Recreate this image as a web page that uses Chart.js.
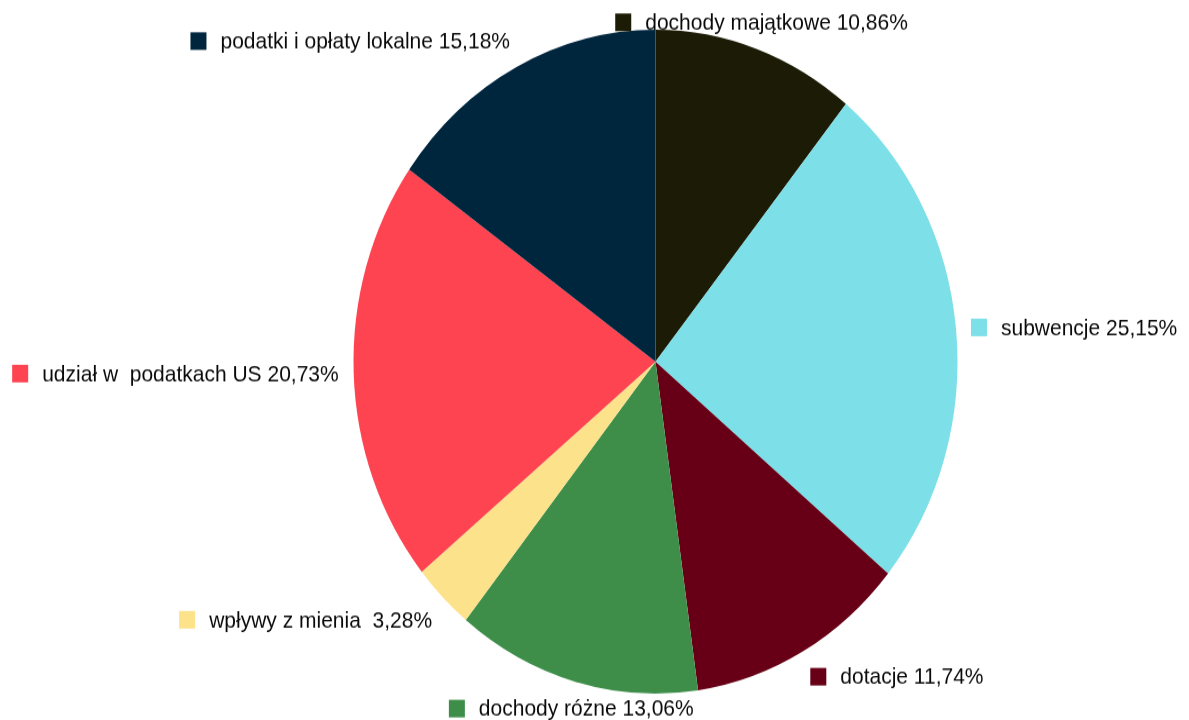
<!DOCTYPE html>
<html>
<head>
<meta charset="utf-8">
<script src="https://cdn.jsdelivr.net/npm/chart.js@4/dist/chart.umd.min.js"></script>
<style>
  html, body { margin:0; padding:0; background:#fff; overflow:hidden; }
  #wrap { width:1189px; height:720px; }
  /* the original pie is a bit taller than wide, text too */
  #pie { transform:scaleY(1.0992); transform-origin:0 0; }
</style>
</head>
<body>
<div id="wrap"><canvas id="pie" width="1189" height="655"></canvas></div>
<script>
// slices, clockwise from 12 o'clock
const categories = [
  'dochody majątkowe',
  'subwencje',
  'dotacje',
  'dochody różne',
  'wpływy z mienia ',
  'udział w  podatkach US',
  'podatki i opłaty lokalne'
];
const shares = [10.86, 25.15, 11.74, 13.06, 3.28, 20.73, 15.18];
const colors = ['#1c1b05', '#7ddfe8', '#670016', '#3e8e4a', '#fde28c', '#fd4450', '#00263e'];

const fmt = v => v.toFixed(2).replace('.', ',') + '%';

// LibreOffice-style outside labels with a colour key square
const outsideLabels = {
  id: 'outsideLabels',
  afterDatasetsDraw(chart) {
    const ctx = chart.ctx;
    const meta = chart.getDatasetMeta(0);
    const box = 16, gap = 14, lineH = 20, off = 15;
    ctx.save();
    ctx.font = '21px "Liberation Sans", Arial, sans-serif';
    ctx.textBaseline = 'middle';
    meta.data.forEach((arc, i) => {
      const p = arc.getProps(['x', 'y', 'startAngle', 'endAngle', 'outerRadius'], true);
      const mid = (p.startAngle + p.endAngle) / 2;
      const cx = Math.cos(mid), sy = Math.sin(mid);   // angle measured from 3 o'clock
      const ax = p.x + (p.outerRadius + off) * cx;
      const ay = p.y + (p.outerRadius + off) * sy;
      const text = categories[i] + ' ' + fmt(shares[i]);
      const w = box + gap + ctx.measureText(text).width;
      let left;
      if (Math.abs(cx) < 0.42) left = ax - w / 2;
      else if (cx > 0) left = ax;
      else left = ax - w;
      let midY;
      if (sy < -0.5) midY = ay - lineH / 2;
      else if (sy > 0.5) midY = ay + lineH / 2;
      else midY = ay;
      ctx.fillStyle = colors[i];
      ctx.fillRect(left, midY - box / 2, box, box);
      ctx.fillStyle = '#0a0a0a';
      ctx.textAlign = 'left';
      ctx.fillText(text, left + box + gap, midY + 1);
    });
    ctx.restore();
  }
};

new Chart(document.getElementById('pie'), {
  type: 'pie',
  data: {
    labels: categories,
    datasets: [{
      data: shares,
      backgroundColor: colors,
      borderWidth: 0
    }]
  },
  options: {
    responsive: false,
    animation: false,
    devicePixelRatio: 1,
    layout: { padding: { top: 27, bottom: 24, left: 200, right: 78 } },
    plugins: { legend: { display: false }, tooltip: { enabled: false } }
  },
  plugins: [outsideLabels]
});
</script>
</body>
</html>
